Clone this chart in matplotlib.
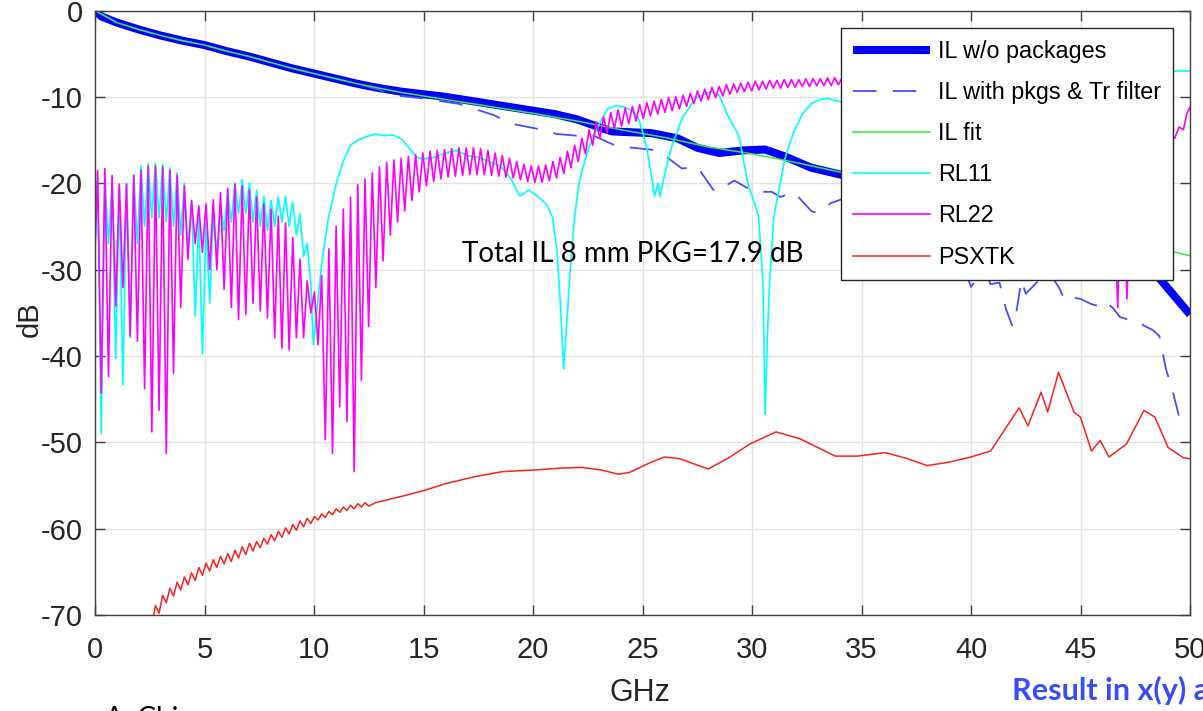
import numpy as np
import matplotlib.pyplot as plt

# IL without packages (thick blue)
il_f = [0, 0.3, 1, 2, 3, 4, 5, 6, 7, 8, 9, 10, 11, 12, 13, 14, 15, 16, 17, 18, 19, 20, 21, 22, 23,
        23.6, 24.5, 25.4, 26.6, 27.5, 28.5, 29.6, 30.6, 31.5, 32.7, 34.2, 35, 37, 39, 41, 43, 45, 47,
        48, 48.5, 49.2, 50]
il_db = [0, -0.7, -1.4, -2.2, -2.9, -3.5, -4.0, -4.7, -5.3, -6.0, -6.7, -7.3, -7.9, -8.5, -9.0, -9.4,
         -9.7, -10.0, -10.4, -10.8, -11.2, -11.6, -12.0, -12.6, -13.5, -14.0, -14.1, -14.2, -14.8,
         -15.9, -16.5, -16.2, -16.1, -16.9, -18.2, -19.1, -19.3, -20.0, -21.0, -22.5, -24.0, -26.0,
         -28.0, -29.5, -30.7, -32.8, -35.2]

# IL with packages & Tr filter (dashed)
ilp_f = [0, 1, 2, 3, 4, 5, 6, 7, 8, 9, 10, 11, 12, 13, 13.5, 14, 15, 16.6, 18.2, 19, 20.2, 21.1, 22,
         22.6, 23.9, 24.6, 25.7, 26.8, 27.5, 28.3, 29.2, 30.1, 30.9, 31.3, 31.9, 32.7, 33.0, 33.6,
         34.5, 35.5, 37, 38.5, 39.8, 40.0, 40.3, 40.7, 40.9, 41.3, 41.6, 41.9, 42.1, 42.3, 42.5, 43.0,
         43.6, 44.0, 44.3, 44.6, 45.0, 45.5, 45.8, 46.1, 46.5, 46.8, 47.2, 47.6, 47.9, 48.3, 48.6,
         48.9, 49.2, 49.6, 49.8]
ilp_db = [0, -1.4, -2.2, -2.9, -3.5, -4.0, -4.7, -5.3, -6.0, -6.7, -7.3, -7.9, -8.5, -9.2, -9.8,
          -9.9, -10.2, -10.8, -12.1, -13.1, -13.7, -14.3, -14.5, -14.3, -15.8, -15.9, -16.2, -18.3,
          -18.1, -21.0, -19.7, -21.0, -21.0, -21.6, -21.0, -23.2, -23.5, -22.3, -21.5, -22.5, -25.0,
          -28.0, -30.6, -32.0, -31.0, -30.7, -31.7, -31.5, -34.6, -36.6, -34.5, -31.2, -32.8, -31.5,
          -30.5, -32.0, -33.6, -33.2, -33.4, -34.0, -34.2, -33.6, -34.5, -35.5, -35.8, -35.9, -36.5,
          -37.0, -37.7, -41.5, -44.0, -48.0, -48.5]

# IL fit (green)
fit_f = [0, 1, 2, 3, 4, 5, 6, 7, 8, 9, 10, 12, 14, 16, 18, 20, 22, 24, 26, 28, 30, 32, 34, 36, 38,
         40, 42, 44, 46, 48, 50]
fit_db = [0, -1.4, -2.2, -2.9, -3.5, -4.0, -4.7, -5.3, -6.0, -6.7, -7.3, -8.5, -9.5, -10.3, -11.1,
          -11.9, -12.8, -13.8, -14.7, -15.8, -16.6, -17.6, -18.7, -19.8, -21.0, -22.2, -23.4, -24.7,
          -26.0, -27.2, -28.4]

# ripple positions of the sweeps (peak of each ripple, dip half a period later)
rip_f = np.arange(0.12, 50, 0.33)

# RL11 ripple peaks / dips below 10 GHz, then the traced curve
rl11_pk = [-19.5, -19.5, -20.0, -20.5, -20.0, -19.0, -18.0, -17.7, -17.7, -17.8, -18.2, -18.8,
           -20.0, -22.0, -24.0, -24.5, -24.0, -22.5, -21.0, -20.0, -19.6, -20.0, -20.8, -21.5,
           -22.0, -21.6, -21.5, -22.2, -23.5, -27.0]
rl11_dip = [-49.0, -27.0, -40.3, -43.4, -37.9, -27.0, -25.0, -24.0, -24.0, -24.5, -25.0, -26.0,
            -28.0, -35.4, -39.8, -33.9, -28.0, -25.5, -24.5, -23.5, -23.5, -24.5, -25.0, -25.5,
            -25.0, -24.5, -25.0, -26.0, -28.5, -31.7]
rl11_f = [9.97, 10.2, 10.37, 10.66, 11.05, 11.35, 11.66, 12.0, 12.4, 12.8, 13.2, 13.6, 14.0, 14.3,
          14.7, 15.0, 15.5, 16.0, 16.5, 17.0, 17.5, 18.0, 18.5, 19.0, 19.4, 19.8, 20.2, 20.6, 20.9,
          21.1, 21.25, 21.4, 21.55, 21.7, 21.9, 22.1, 22.3, 22.6, 23.0, 23.4, 23.8, 24.2, 24.5, 24.8,
          25.0, 25.2, 25.4, 25.55, 25.7, 25.8, 26.0, 26.3, 26.8, 27.4, 28.1, 28.5, 28.9, 29.4, 29.8,
          30.3, 30.5, 30.6, 30.7, 30.8, 31.0, 31.5, 31.9, 32.3, 32.7, 33.1, 33.5, 34.1, 34.6, 36,
          38, 40, 42, 44, 46, 48, 49, 50]
rl11_db = [-38.7, -33.0, -29.0, -24.0, -19.7, -17.4, -15.6, -15.0, -14.6, -14.3, -14.5, -14.4,
           -14.9, -15.8, -17.0, -17.2, -17.0, -16.5, -16.2, -16.8, -17.0, -17.5, -18.0, -19.5,
           -21.5, -20.8, -21.5, -22.4, -24.0, -28.0, -34.0, -41.5, -36.0, -30.0, -24.0, -20.0,
           -18.0, -15.5, -13.3, -11.4, -11.0, -11.2, -11.6, -12.4, -14.0, -16.0, -19.0, -21.5,
           -20.0, -21.5, -19.1, -16.0, -12.5, -10.2, -9.4, -9.8, -12.2, -14.5, -19.9, -23.8, -31.5,
           -46.8, -38.0, -31.5, -23.8, -17.2, -14.1, -12.0, -10.8, -10.3, -10.2, -10.6, -11.2,
           -13.0, -15.0, -12.0, -9.0, -8.0, -7.5, -7.2, -7.0, -7.0]

# RL22 ripple peaks / dips up to 34.5 GHz, then the traced curve
rl22_pk = [-18.5, -18.3, -19.1, -20.1, -20.1, -19.1, -18.5, -18.0, -18.0, -18.1, -18.5, -19.1,
           -20.3, -22.0, -22.6, -22.4, -21.9, -21.1, -20.6, -20.1,
           -20.3, -20.8, -21.6, -22.4, -23.0, -23.8, -24.6, -26.3, -28.8, -31.3, -32.6, -30.7,
           -27.6, -25.0, -23.0, -21.6, -20.2, -19.5, -18.8, -18.1,
           -17.6, -17.3, -17.1, -16.9, -16.7, -16.5, -16.3, -16.2, -16.1, -16.0, -15.9, -15.9,
           -15.9, -16.0, -16.2, -16.5, -16.8, -17.1, -17.5, -17.8, -18.0, -18.0, -17.9, -17.5,
           -17.0, -16.3, -15.6, -14.8, -13.8, -12.9, -12.3, -11.8, -11.5, -11.3, -11.1, -10.9,
           -10.7, -10.5, -10.3, -10.1, -10.0, -9.8, -9.6, -9.3, -9.1, -8.9, -8.8, -8.6, -8.5,
           -8.4, -8.3, -8.2, -8.2, -8.1, -8.1, -8.0, -8.0, -8.0, -7.9, -7.9, -7.9, -7.8, -7.8,
           -7.8, -7.8]
rl22_dip = [-44.3, -42.4, -34.2, -32.1, -37.7, -38.3, -43.8, -48.8, -46.3, -51.3, -42.0, -34.4,
            -28.8, -27.0, -28.0, -30.0, -30.0, -32.3, -34.4, -35.8,
            -35.2, -33.9, -34.8, -35.6, -37.9, -39.1, -39.3, -37.9, -37.9, -35.0, -38.7, -49.7,
            -51.3, -45.9, -47.6, -53.4, -42.8, -36.6, -32.1, -29.0,
            -26.0, -24.5, -23.2, -22.0, -21.0, -20.3, -19.8, -19.5, -19.3, -19.2, -19.1, -19.0,
            -19.0, -19.0, -19.1, -19.2, -19.3, -19.4, -19.6, -19.8, -19.9, -19.9, -19.7, -19.4,
            -18.9, -18.2, -17.5, -16.6, -15.6, -14.8, -14.2, -13.7, -13.4, -13.1, -12.8, -12.5,
            -12.2, -12.0, -11.8, -11.6, -11.4, -11.1, -10.8, -10.5, -10.3, -10.1, -9.9, -9.7, -9.5,
            -9.4, -9.3, -9.2, -9.1, -9.0, -9.0, -8.9, -8.9, -8.8, -8.8, -8.7, -8.7, -8.7, -8.6,
            -8.6, -8.6]
rl22_f = [36, 38, 40, 42, 44, 46.0, 46.5, 46.7, 46.85, 47.0, 47.12, 47.3, 48, 48.5, 49.0, 49.3,
          49.5, 49.7, 49.85, 50]
rl22_db = [-9.0, -10.0, -12.0, -14.0, -15.0, -16.0, -20.0, -34.4, -20.0, -22.0, -33.4, -20.0,
           -16.0, -15.0, -14.5, -14.8, -13.5, -13.8, -12.0, -11.2]

# PSXTK (red): small ripple from 2.4 to 12.5 GHz, then the traced curve
xt_pk = [-70.2, -68.9, -67.7, -66.9, -66.2, -65.6, -65.1, -64.5, -64.0, -63.6, -63.2, -62.9,
         -62.5, -62.1, -61.7, -61.5, -61.1, -60.7, -60.3, -59.9, -59.5, -59.1, -58.8, -58.6,
         -58.3, -58.0, -57.7, -57.5, -57.3, -57.1, -57.0]
xt_dip = [-71.1, -69.8, -68.6, -67.8, -67.1, -66.5, -66.0, -65.4, -64.9, -64.5, -64.1, -63.8,
          -63.4, -63.0, -62.6, -62.2, -61.8, -61.4, -61.0, -60.6, -60.2, -59.8, -59.4, -59.0,
          -58.7, -58.4, -58.1, -57.9, -57.7, -57.5, -57.4]
xt_f = [12.8, 14.1, 15.0, 16.0, 17.3, 18.6, 20.1, 21.2, 22.2, 23.1, 23.9, 24.4, 25.4, 26.0, 26.7,
        28.0, 29.0, 29.9, 31.1, 32.2, 33.8, 34.8, 36.1, 37.1, 38.0, 39.0, 40.0, 40.9, 41.6, 42.2,
        42.6, 43.2, 43.5, 44.0, 44.7, 45.0, 45.5, 45.9, 46.3, 47.1, 47.9, 48.4, 49.0, 49.7, 50.0]
xt_db = [-57.0, -56.2, -55.6, -54.8, -54.0, -53.4, -53.2, -53.0, -52.9, -53.2, -53.7, -53.5,
         -52.3, -51.7, -51.9, -53.1, -51.7, -50.2, -48.8, -49.6, -51.6, -51.6, -51.2, -51.9, -52.7,
         -52.3, -51.7, -51.0, -48.3, -46.0, -48.1, -44.2, -46.5, -41.9, -46.5, -47.1, -51.0, -49.8,
         -51.7, -50.2, -46.3, -47.1, -50.6, -51.8, -51.9]

labels = ['IL w/o packages', 'IL with pkgs & Tr filter', 'IL fit', 'RL11', 'RL22', 'PSXTK']
xticks = [0, 5, 10, 15, 20, 25, 30, 35, 40, 45, 50]
yticks = [0, -10, -20, -30, -40, -50, -60, -70]


def ripple(pk, dip, tail_f, tail_db, k0=0, start=None):
    f, v = [], []
    if start is not None:
        f.append(start[0])
        v.append(start[1])
    for fk, a, b in zip(rip_f[k0:], pk, dip):
        f += [fk, fk + 0.165]
        v += [a, b]
    return f + list(tail_f), v + list(tail_db)


rl11_x, rl11_y = ripple(rl11_pk, rl11_dip, rl11_f, rl11_db, start=(0, -27))
rl22_x, rl22_y = ripple(rl22_pk, rl22_dip, rl22_f, rl22_db, start=(0, -28))
xt_x, xt_y = ripple(xt_pk, xt_dip, xt_f, xt_db, k0=7)

plt.rcParams['font.family'] = ['Liberation Sans']
plt.rcParams['axes.unicode_minus'] = False
fig = plt.figure(figsize=(12.03, 7.11), dpi=100)
ax = fig.add_axes([95 / 1203, 1 - 615 / 711, 1095 / 1203, (615 - 10.5) / 711])

ax.plot(il_f, il_db, color='#0000ff', lw=5.8, label=labels[0], solid_capstyle='butt')
ax.plot(ilp_f, ilp_db, color='#4b4bff', lw=1.3, dashes=(13, 9), label=labels[1])
ax.plot(fit_f, fit_db, color='#33ee33', lw=1.1, label=labels[2])
ax.plot(rl11_x, rl11_y, color='#00ffff', lw=1.2, label=labels[3])
ax.plot(rl22_x, rl22_y, color='#ff00ff', lw=1.2, label=labels[4])
ax.plot(xt_x, xt_y, color='#ff2020', lw=1.1, label=labels[5])

ax.set_xlim(0, 50)
ax.set_ylim(-70, 0)
ax.set_xticks(xticks)
ax.set_yticks(yticks)
ax.grid(True, color='#e3e3e3', lw=1)
ax.set_axisbelow(True)
ax.tick_params(direction='in', length=7.5, width=1, color='#404040', labelcolor='#262626',
               labelsize=21, top=True, right=True)
ax.tick_params(axis='y', pad=9)
ax.tick_params(axis='x', pad=15)
for s in ax.spines.values():
    s.set_color('#404040')
    s.set_linewidth(1)

ax.set_xlabel('GHz', fontsize=22, color='#262626')
ax.xaxis.set_label_coords(0.498, -0.104)
ax.set_ylabel('dB', fontsize=21, color='#262626')
ax.yaxis.set_label_coords(-0.047, 0.49)

leg = ax.legend(loc='upper right', bbox_to_anchor=(0.9845, 0.971), fontsize=16.8, frameon=True,
                fancybox=False, framealpha=1, edgecolor='#262626', handlelength=3.3,
                handletextpad=0.35, labelspacing=0.78, borderpad=0.5, borderaxespad=0)
leg.get_frame().set_linewidth(1)

fig.text(462 / 1203, 1 - 262 / 711, 'Total IL 8 mm PKG=17.9 dB', fontsize=20,
         family=['Lato', 'DejaVu Sans'], color='black', va='baseline')
fig.text(1012 / 1203, 1 - 700 / 711, 'Result in x(y) a', fontsize=22, fontweight='bold',
         family=['Lato', 'DejaVu Sans'], color='#3b4cff', va='baseline')
fig.text(105 / 1203, 1 - 727 / 711, 'A. Chi', fontsize=20, family=['Lato', 'DejaVu Sans'],
         color='black', va='baseline')

fig.savefig('out.png', dpi=100)
